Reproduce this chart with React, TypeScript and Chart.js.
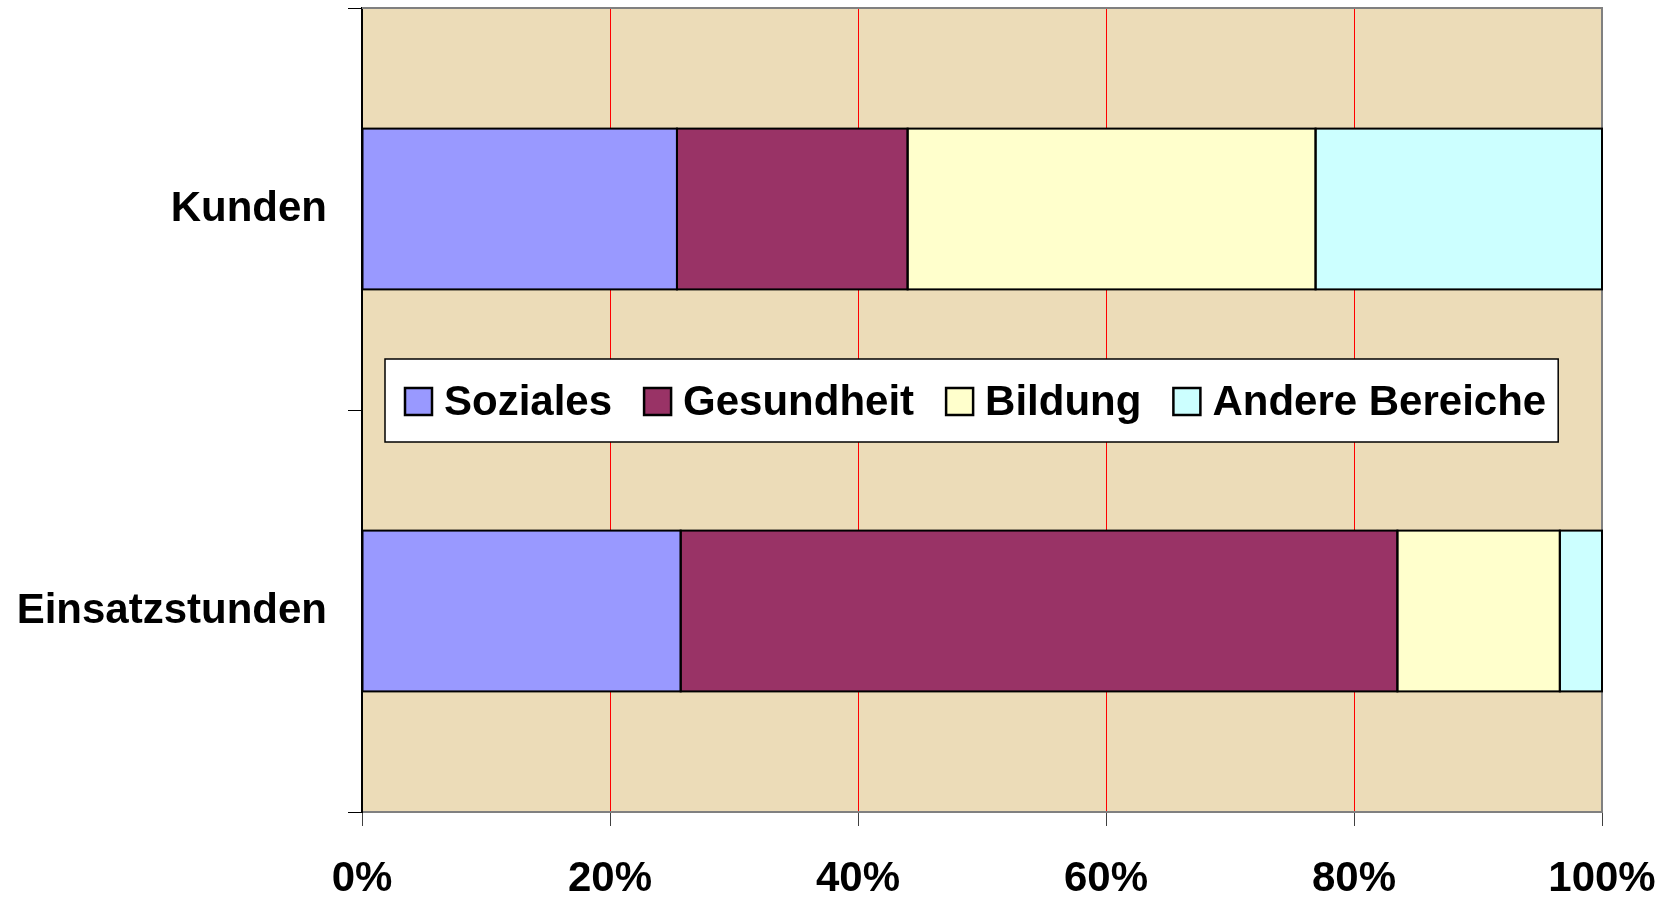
import React, { useEffect, useRef } from "react";
import { Chart, registerables } from "chart.js";

Chart.register(...registerables);

const categories = ["Kunden", "Einsatzstunden"];
const seriesNames = ["Soziales", "Gesundheit", "Bildung", "Andere Bereiche"];
const soziales = [25.4, 25.7];
const gesundheit = [18.6, 57.8];
const bildung = [32.9, 13.1];
const andere = [23.1, 3.4];
const xTicks = [0, 20, 40, 60, 80, 100];

const colors = ["#9999FF", "#993366", "#FFFFCC", "#CCFFFF"];
const FONT = "'Liberation Sans', Arial, sans-serif";

const plotBg = {
  id: "plotBg",
  beforeDraw(chart: any) {
    const { ctx, chartArea: a } = chart;
    ctx.save();
    ctx.fillStyle = "#ECDCB8";
    ctx.fillRect(a.left, a.top, a.right - a.left, a.bottom - a.top);
    ctx.restore();
  },
  beforeDatasetsDraw(chart: any) {
    const { ctx, chartArea: a } = chart;
    ctx.save();
    ctx.strokeStyle = "#808080";
    ctx.lineWidth = 2;
    ctx.beginPath();
    ctx.moveTo(a.left, a.top);
    ctx.lineTo(a.right, a.top);
    ctx.lineTo(a.right, a.bottom);
    ctx.stroke();
    ctx.restore();
  },
};

// outline each bar segment with a single centred stroke (as in the original)
const barOutline = {
  id: "barOutline",
  afterDatasetsDraw(chart: any) {
    const { ctx } = chart;
    ctx.save();
    ctx.strokeStyle = "#000";
    ctx.lineWidth = 2;
    chart.data.datasets.forEach((_d: any, di: number) => {
      const meta = chart.getDatasetMeta(di);
      meta.data.forEach((el: any) => {
        const p = el.getProps(["x", "y", "base", "height"], true);
        const l = Math.min(p.x, p.base);
        const r = Math.max(p.x, p.base);
        ctx.strokeRect(l, p.y - p.height / 2, r - l, p.height);
      });
    });
    ctx.restore();
  },
};

const legendPlugin = {
  id: "boxLegend",
  afterDatasetsDraw(chart: any) {
    const { ctx, chartArea: a } = chart;
    ctx.save();
    ctx.font = `bold 42px ${FONT}`;
    const sq = 27, gapText = 12, gapItem = 32, padL = 20, padR = 12;
    const widths = chart.data.datasets.map((d: any) => ctx.measureText(d.label).width);
    let total = padL + padR;
    widths.forEach((w: number, i: number) => {
      total += sq + gapText + w + (i < widths.length - 1 ? gapItem : 0);
    });
    const left = a.left + 23;
    const top = a.top + 351;
    const h = 83;
    ctx.fillStyle = "#FFFFFF";
    ctx.fillRect(left, top, total, h);
    ctx.strokeStyle = "#000000";
    ctx.lineWidth = 1.5;
    ctx.strokeRect(left, top, total, h);
    let x = left + padL;
    const cy = top + h / 2 + 1;
    chart.data.datasets.forEach((d: any, i: number) => {
      ctx.fillStyle = d.backgroundColor;
      ctx.fillRect(x, cy - sq / 2, sq, sq);
      ctx.strokeStyle = "#000";
      ctx.lineWidth = 2.5;
      ctx.strokeRect(x, cy - sq / 2, sq, sq);
      x += sq + gapText;
      ctx.fillStyle = "#000";
      ctx.textBaseline = "middle";
      ctx.textAlign = "left";
      ctx.fillText(d.label, x, cy + 2);
      x += widths[i] + gapItem;
    });
    ctx.restore();
  },
};

export default function App() {
  const ref = useRef<HTMLCanvasElement>(null);
  useEffect(() => {
    if (!ref.current) return;
    const values = [soziales, gesundheit, bildung, andere];
    const chart = new Chart(ref.current, {
      type: "bar",
      data: {
        labels: categories,
        datasets: seriesNames.map((name, i) => ({
          label: name,
          data: values[i],
          backgroundColor: colors[i],
          borderWidth: 0,
          inflateAmount: 0,
          barPercentage: 0.4,
          categoryPercentage: 1,
        })),
      },
      options: {
        indexAxis: "y",
        animation: false,
        responsive: false,
        maintainAspectRatio: false,
        layout: { padding: { top: 8, right: 63, left: 0, bottom: 0 } },
        plugins: { legend: { display: false }, tooltip: { enabled: false } },
        scales: {
          x: {
            stacked: true,
            min: 0,
            max: 100,
            afterBuildTicks: (scale: any) => {
              scale.ticks = xTicks.map((v) => ({ value: v }));
            },
            afterFit: (scale: any) => {
              scale.height = 85;
              scale.paddingLeft = 0;
              scale.paddingRight = 0;
            },
            ticks: {
              callback: (v: any) => v + "%",
              font: { family: FONT, size: 42, weight: "bold" },
              color: "#000",
              padding: 28,
              maxRotation: 0,
            },
            grid: {
              color: (c: any) =>
                c.tick && (c.tick.value === 0 || c.tick.value === 100) ? "rgba(0,0,0,0)" : "#FF0000",
              lineWidth: 1,
              tickLength: 14,
              tickColor: "#404040",
              drawTicks: true,
            },
            border: { display: true, color: "#808080", width: 2 },
          },
          y: {
            stacked: true,
            afterFit: (scale: any) => {
              scale.width = 362;
              scale.paddingTop = 0;
              scale.paddingBottom = 0;
            },
            ticks: {
              font: { family: FONT, size: 42, weight: "bold" },
              color: "#000",
              padding: 21,
            },
            grid: {
              offset: true,
              drawOnChartArea: false,
              drawTicks: true,
              tickLength: 14,
              tickColor: "#000",
            },
            border: { display: true, color: "#000", width: 2 },
          },
        },
      },
      plugins: [plotBg, barOutline, legendPlugin],
    });
    return () => chart.destroy();
  }, []);
  return (
    <div style={{ position: "fixed", left: 0, top: 0, width: 1665, height: 897, background: "#fff" }}>
      <canvas ref={ref} width={1665} height={897} style={{ width: 1665, height: 897 }} />
    </div>
  );
}
